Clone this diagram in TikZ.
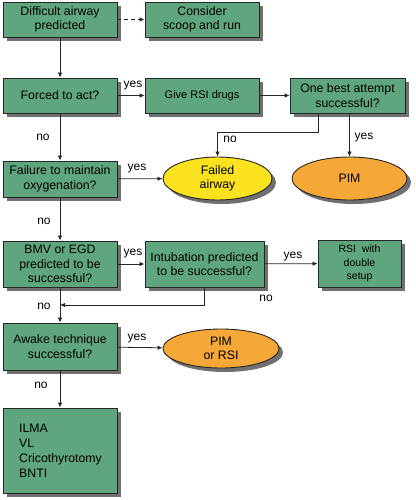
\documentclass[tikz,border=0pt]{standalone}
\usepackage{fontspec}
\setmainfont{Liberation Sans}
\usetikzlibrary{arrows.meta,shadows,shapes.geometric}
\definecolor{boxgreen}{RGB}{95,166,126}
\definecolor{failyellow}{RGB}{250,226,30}
\definecolor{pimorange}{RGB}{245,168,55}
\definecolor{shadowgray}{RGB}{112,112,112}
\tikzset{
  box/.style={rectangle, draw=black!85, line width=0.9pt, fill=boxgreen, inner sep=0pt,
    minimum width=114pt, align=center, font=\fontsize{12.3}{14.5}\selectfont,
    drop shadow={shadow xshift=4pt, shadow yshift=-4pt, fill=shadowgray, opacity=1}},
  oval/.style={ellipse, draw=black!85, line width=0.9pt, inner sep=0pt, align=center,
    font=\fontsize{12.3}{14.5}\selectfont,
    drop shadow={shadow xshift=4pt, shadow yshift=-4pt, fill=shadowgray, opacity=1}},
  conn/.style={line width=0.8pt, draw=black!85, -{Latex[length=5pt,width=4.5pt]}},
  lbl/.style={font=\fontsize{12}{14}\selectfont, inner sep=0pt},
}
\begin{document}
\begin{tikzpicture}[x=1pt,y=-1pt]
\useasboundingbox (0,0) rectangle (415,500);
\node[box, minimum height=35pt] (dap) at (60,19.5) {Difficult airway\\predicted};
\node[box, minimum height=35pt] (csr) at (202,19.5) {Consider\\scoop and run};
\node[box, minimum height=35pt] (fta) at (60,95.5) {Forced to act?};
\node[box, minimum height=35pt, font=\fontsize{11}{13}\selectfont] (rsi) at (202,95.5) {Give RSI drugs};
\node[box, minimum height=35pt, minimum width=115pt] (oba) at (347.5,95.5) {One best attempt\\successful?};
\node[box, minimum height=36pt] (ftm) at (60,179) {Failure to maintain\\oxygenation?};
\node[oval, fill=failyellow, minimum width=109pt, minimum height=43pt] (fa) at (217.5,178.5) {Failed\\airway};
\node[oval, fill=pimorange, minimum width=115pt, minimum height=43pt] (pim) at (349.5,178.5) {PIM};
\node[box, minimum height=46pt] (bmv) at (60,264) {BMV or EGD\\predicted to be\\successful?};
\node[box, minimum height=46pt, minimum width=119pt] (ipt) at (204.5,264) {Intubation predicted\\to be successful?};
\node[box, minimum height=47pt, minimum width=83pt, font=\fontsize{10.5}{13.3}\selectfont] (dbl) at (359.5,263.5) {RSI\ \ with\\double\\setup};
\node[box, minimum height=47pt] (awk) at (60,346.5) {Awake technique\\successful?};
\node[oval, fill=pimorange, minimum width=116pt, minimum height=39pt] (pr) at (221,348.5) {PIM\\or RSI};
\node[box, minimum height=85pt] (alt) at (60,450.5) {};
\node[anchor=west, align=left, inner sep=0pt, font=\fontsize{12.3}{15}\selectfont] (altt) at (19,450.5) {ILMA\\VL\\Cricothyrotomy\\BNTI};
\coordinate (m) at (60,305);
\coordinate (k1) at (318,132);
% connectors
\draw[conn, dashed, dash pattern=on 4pt off 3pt] (dap) -- (csr);
\draw[conn] (dap) -- (fta);
\draw[conn] (fta) -- (rsi);
\draw[conn] (rsi) -- (oba);
\draw[conn] (fta) -- (ftm);
\draw[conn] (oba.south -| k1) -- (k1) -| (fa.north);
\draw[conn] (oba.south -| pim.north) -- (pim.north);
\draw[conn] (ftm) -- (fa);
\draw[conn] (ftm) -- (bmv);
\draw[conn] (bmv) -- (ipt);
\draw[conn] (ipt) -- (dbl);
\draw[conn] (ipt.south) -- (ipt.south |- m) -- (m);
\draw[conn] (bmv) -- (awk);
\draw[conn] (awk) -- (pr);
\draw[conn] (awk) -- (alt);
% labels
\node[lbl] (l1) at (133,86) {yes};
\node[lbl] (l2) at (43,137) {no};
\node[lbl] (l3) at (230,139) {no};
\node[lbl] (l4) at (364,138) {yes};
\node[lbl] (l5) at (137,169) {yes};
\node[lbl] (l6) at (44,221) {no};
\node[lbl] (l7) at (133,254) {yes};
\node[lbl] (l8) at (293,257) {yes};
\node[lbl] (l9) at (266,298) {no};
\node[lbl] (l10) at (44,306) {no};
\node[lbl] (l11) at (137,339) {yes};
\node[lbl] (l12) at (41,385) {no};
\end{tikzpicture}
\end{document}
